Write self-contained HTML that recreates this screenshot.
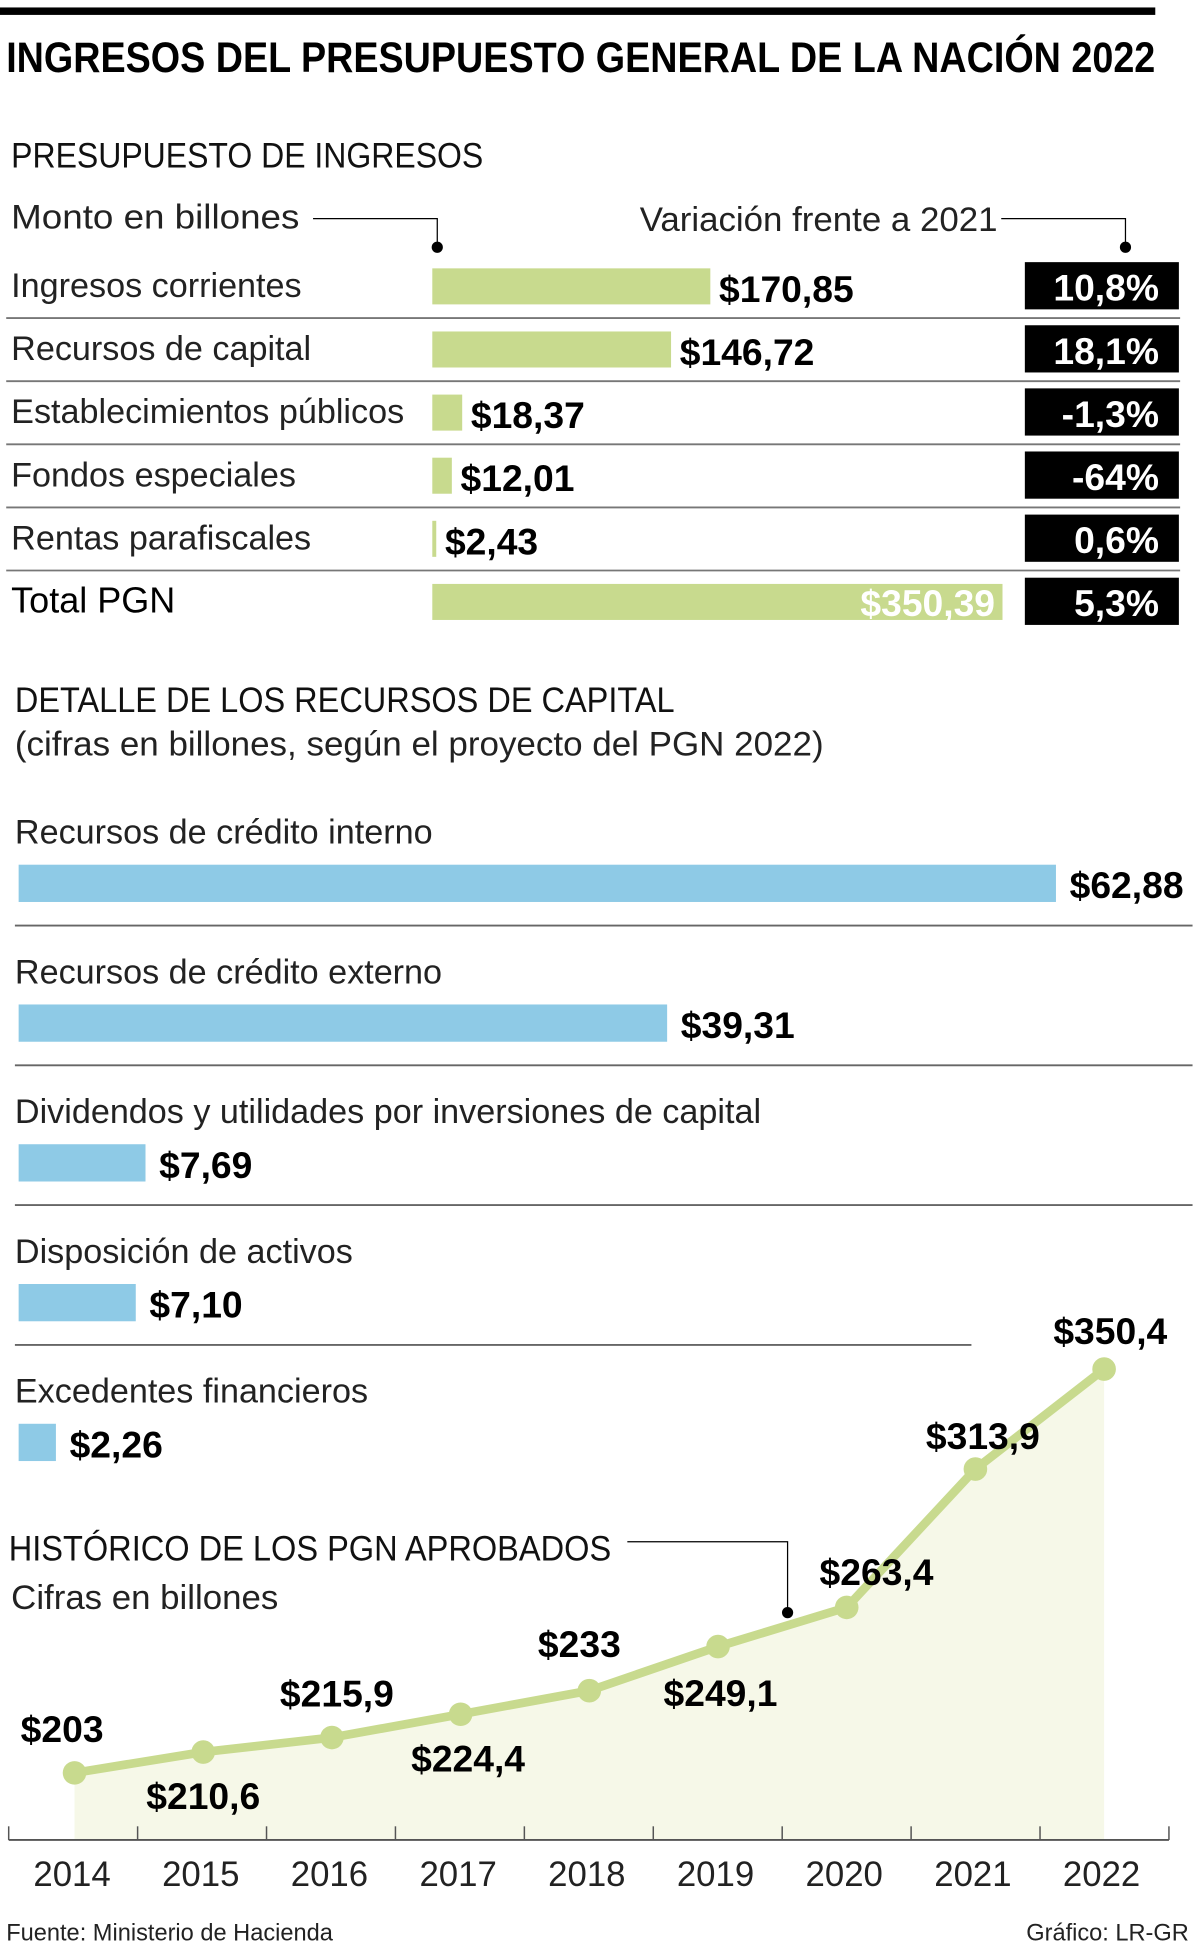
<!DOCTYPE html>
<html><head><meta charset="utf-8">
<style>
html,body{margin:0;padding:0;background:#fff;}
svg{display:block;}
text{font-family:"Liberation Sans",sans-serif;}
.lt{fill:#222;font-size:27.5px;}
.bd{font-weight:bold;fill:#000;font-size:30px;}
.hd{fill:#111;font-size:28px;}
</style></head>
<body>
<svg id="g" width="1200" height="1958" viewBox="0 0 966 1576" preserveAspectRatio="none" xmlns="http://www.w3.org/2000/svg">
  <rect x="0" y="6" width="930" height="6" fill="#000"/>
  <text x="5" y="58" font-size="34" font-weight="bold" fill="#000" textLength="925" lengthAdjust="spacingAndGlyphs">INGRESOS DEL PRESUPUESTO GENERAL DE LA NACIÓN 2022</text>

  <text class="hd" x="9" y="135" textLength="380" lengthAdjust="spacingAndGlyphs">PRESUPUESTO DE INGRESOS</text>
  <text class="lt" x="9" y="184" textLength="232" lengthAdjust="spacingAndGlyphs">Monto en billones</text>
  <polyline points="252,176 352,176 352,196" fill="none" stroke="#000" stroke-width="1"/>
  <circle cx="352" cy="199" r="4.5" fill="#000"/>
  <text class="lt" x="515" y="186" textLength="288" lengthAdjust="spacingAndGlyphs">Variación frente a 2021</text>
  <polyline points="806,176 906,176 906,196" fill="none" stroke="#000" stroke-width="1"/>
  <circle cx="906" cy="199" r="4.5" fill="#000"/>
  <g id="budget"></g>

  <text class="hd" x="12" y="573" textLength="531" lengthAdjust="spacingAndGlyphs">DETALLE DE LOS RECURSOS DE CAPITAL</text>
  <text class="lt" x="12" y="608" textLength="651" lengthAdjust="spacingAndGlyphs">(cifras en billones, según el proyecto del PGN 2022)</text>
  <g id="capital"></g>

  <g id="hist"></g>
  <text class="hd" x="7" y="1256" textLength="485" lengthAdjust="spacingAndGlyphs">HISTÓRICO DE LOS PGN APROBADOS</text>
  <text class="lt" x="9" y="1295" textLength="215" lengthAdjust="spacingAndGlyphs">Cifras en billones</text>
  <polyline points="505,1241 634,1241 634,1295" fill="none" stroke="#000" stroke-width="1"/>
  <circle cx="634" cy="1298" r="4.5" fill="#000"/>

  <text x="5" y="1562" font-size="19" fill="#222" textLength="263" lengthAdjust="spacingAndGlyphs">Fuente: Ministerio de Hacienda</text>
  <text x="957" y="1562" font-size="19" fill="#222" text-anchor="end">Gráfico: LR-GR</text>
</svg>
<script>
const budgetCategories = ["Ingresos corrientes","Recursos de capital","Establecimientos públicos","Fondos especiales","Rentas parafiscales","Total PGN"];
const budgetValues = [170.85,146.72,18.37,12.01,2.43,350.39];
const budgetLabels = ["$170,85","$146,72","$18,37","$12,01","$2,43","$350,39"];
const budgetVariation = ["10,8%","18,1%","-1,3%","-64%","0,6%","5,3%"];

const capitalCategories = ["Recursos de crédito interno","Recursos de crédito externo","Dividendos y utilidades por inversiones de capital","Disposición de activos","Excedentes financieros"];
const capitalValues = [62.88,39.31,7.69,7.10,2.26];
const capitalLabels = ["$62,88","$39,31","$7,69","$7,10","$2,26"];

const histYears = ["2014","2015","2016","2017","2018","2019","2020","2021","2022"];
const histValues = [203,210.6,215.9,224.4,233,249.1,263.4,313.9,350.4];
const histLabels = ["$203","$210,6","$215,9","$224,4","$233","$249,1","$263,4","$313,9","$350,4"];
const histLabelDy = [-25,46,-25,46,-27,48,-18,-16,-20];
const histLabelDx = [-10,0,4,6,-8,2,24,6,5];

const NS="http://www.w3.org/2000/svg";
function mk(parent,tag,attrs,txt){const e=document.createElementNS(NS,tag);for(const k in attrs)e.setAttribute(k,attrs[k]);if(txt!==undefined)e.textContent=txt;parent.appendChild(e);return e;}

const bx = v => 348 + v*1.31;
const bg=document.getElementById('budget');
budgetCategories.forEach((c,i)=>{
  const top=211+i*50.8;
  const total=i===budgetCategories.length-1;
  const lab=mk(bg,'text',{x:9,y:top+28,'font-size':total?29:27.5,fill:total?'#000':'#222'},c);
  
  
  const bar=mk(bg,'rect',{x:348,y:top+5,width:Math.max(bx(budgetValues[i])-348,2),height:29,fill:'#c8da8e'});
  
  
  const val=total? mk(bg,'text',{x:bx(budgetValues[i])-6,y:top+31,class:'bd','text-anchor':'end',style:'fill:#fff'},budgetLabels[i])
                 : mk(bg,'text',{x:bx(budgetValues[i])+7,y:top+32,class:'bd'},budgetLabels[i]);
  
  
  const box=mk(bg,'rect',{x:825,y:top,width:124,height:38,fill:'#000'});
  
  
  const vt=mk(bg,'text',{x:933,y:top+31,class:'bd','text-anchor':'end',style:'fill:#fff'},budgetVariation[i]);
  
  
  if(!total){
    const sep=mk(bg,'line',{x1:5,x2:950,y1:top+45,y2:top+45,stroke:'#777','stroke-width':1.5});
    
    
  }
});

const cx = v => 15 + v*13.28;
const cg=document.getElementById('capital');
capitalCategories.forEach((c,i)=>{
  const base=679+i*112.5;
  const lab=mk(cg,'text',{x:12,y:base,class:'lt'},c);
  
  
  const bar=mk(cg,'rect',{x:15,y:base+17,width:cx(capitalValues[i])-15,height:30,fill:'#8ecae6'});
  
  
  const val=mk(cg,'text',{x:cx(capitalValues[i])+11,y:base+44,class:'bd'},capitalLabels[i]);
  
  
  if(i<capitalCategories.length-1){
    const sep=mk(cg,'line',{x1:12,x2:i===3?782:960,y1:base+66,y2:base+66,stroke:'#666','stroke-width':1.5});
    
    
  }
});

const hx = i => 60 + i*103.6;
const hy = v => 1874.6 - v*2.205;
const hg=document.getElementById('hist');
const baseY=1481;
let areaD='M'+hx(0)+','+baseY;
histValues.forEach((v,i)=>{areaD+=' L'+hx(i)+','+hy(v);});
areaD+=' L'+hx(histValues.length-1)+','+baseY+' Z';
const area=mk(hg,'path',{d:areaD,fill:'#f6f8e8'});


const axis=mk(hg,'line',{x1:7,x2:941,y1:baseY,y2:baseY,stroke:'#555','stroke-width':1.5});


for(let k=0;k<=histYears.length;k++){
  const tx=7+k*(934/histYears.length);
  const t=mk(hg,'line',{x1:tx,x2:tx,y1:1470,y2:baseY,stroke:'#555','stroke-width':1.2});
  
  
}
histYears.forEach((y,i)=>{
  const t=mk(hg,'text',{x:hx(i)-2,y:1518,'font-size':28,fill:'#222','text-anchor':'middle'},y);
  
  
});
const line=mk(hg,'polyline',{points:histValues.map((v,i)=>hx(i)+','+hy(v)).join(' '),fill:'none',stroke:'#c8da8e','stroke-width':7,'stroke-linejoin':'round'});


histValues.forEach((v,i)=>{
  const p=mk(hg,'circle',{cx:hx(i),cy:hy(v),r:9.5,fill:'#c8da8e'});
  
  
  const l=mk(hg,'text',{x:hx(i)+histLabelDx[i],y:hy(v)+histLabelDy[i],class:'bd','text-anchor':'middle'},histLabels[i]);
  
  
});
</script>
</body></html>
